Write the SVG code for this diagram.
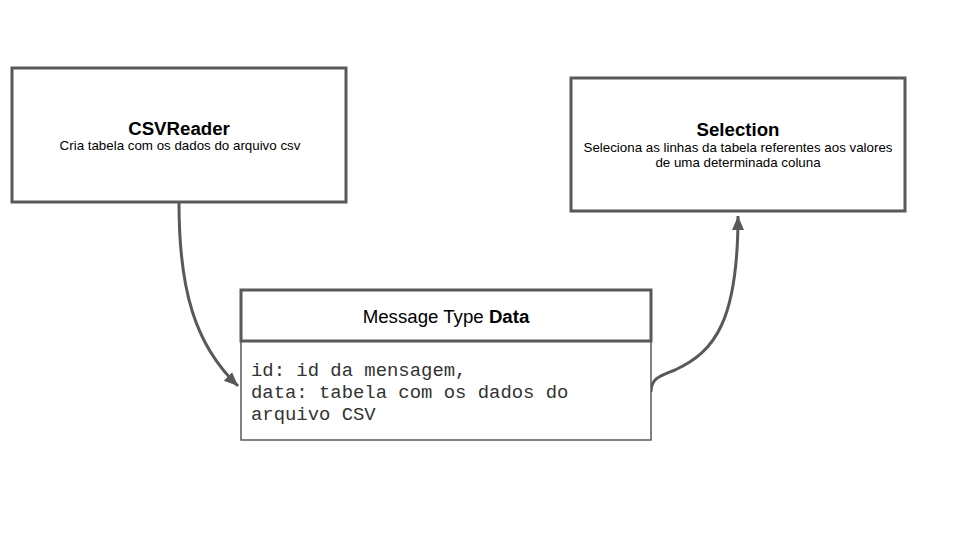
<svg xmlns="http://www.w3.org/2000/svg" width="960" height="540" viewBox="0 0 960 540">
<style>
.box{fill:#ffffff;stroke:#595959;stroke-width:3}
.body{fill:#ffffff;stroke:#595959;stroke-width:1.5}
.title{font-family:"Liberation Sans",Arial,sans-serif;font-weight:bold;font-size:18.67px;fill:#000;text-anchor:middle}
.sub{font-family:"Liberation Sans",Arial,sans-serif;font-size:13.33px;fill:#000;text-anchor:middle}
.hdr{font-family:"Liberation Sans",Arial,sans-serif;font-size:18.67px;fill:#000;text-anchor:middle}
.mono{font-family:"Liberation Mono","Courier New",monospace;font-size:18.9px;fill:#333}
.conn{fill:none;stroke:#595959;stroke-width:3}
</style>
<defs>
<marker id="arrow" markerUnits="userSpaceOnUse" markerWidth="16" markerHeight="16" viewBox="0 0 16 16" refX="14" refY="8" orient="auto">
<path d="M0,2 L14,8 L0,14 Z" fill="#595959"/>
</marker>
</defs>
<rect width="960" height="540" fill="#ffffff"/>
<g id="connectors">
<path class="conn" d="M179,203 C179,290 195,345 238,386" marker-end="url(#arrow)"/>
<path class="conn" d="M651,392 C651,378 660,376 675,370 C715,352 738,320 738,216" marker-end="url(#arrow)"/>
</g>
<g id="csvreader">
<rect class="box" x="12" y="68" width="334" height="134"/>
<text class="title" x="179" y="134.5">CSVReader</text>
<text class="sub" x="180" y="150">Cria tabela com os dados do arquivo csv</text>
</g>
<g id="selection">
<rect class="box" x="571" y="78" width="334" height="133"/>
<text class="title" x="738" y="136">Selection</text>
<text class="sub" x="738" y="152">Seleciona as linhas da tabela referentes aos valores</text>
<text class="sub" x="738" y="167">de uma determinada coluna</text>
</g>
<g id="message-type-data">
<rect class="body" x="241" y="341" width="410" height="99"/>
<rect class="box" x="241" y="290" width="410" height="51"/>
<text class="hdr" x="446" y="323">Message Type <tspan font-weight="bold">Data</tspan></text>
<text class="mono" x="251" y="376">id: id da mensagem,</text>
<text class="mono" x="251" y="398">data: tabela com os dados do</text>
<text class="mono" x="251" y="420">arquivo CSV</text>
</g>
</svg>
